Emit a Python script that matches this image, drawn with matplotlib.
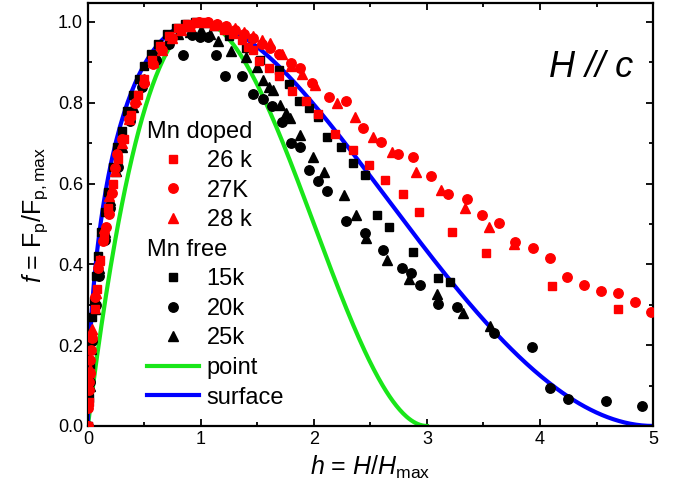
import numpy as np
import matplotlib
matplotlib.use('Agg')
import matplotlib.pyplot as plt
from matplotlib.text import Text

plt.rcParams['font.family'] = ['Liberation Sans', 'DejaVu Sans']
plt.rcParams['mathtext.fontset'] = 'custom'
plt.rcParams['mathtext.rm'] = 'Liberation Sans'
plt.rcParams['mathtext.it'] = 'Liberation Sans:italic'

# Mn free, 15k (black squares)
h_15k = [0, 0.01, 0.02, 0.03, 0.04, 0.05, 0.07, 0.09, 0.12, 0.15, 0.18, 0.22, 0.26, 0.30,
         0.35, 0.40, 0.45, 0.50, 0.56, 0.62, 0.70, 0.78, 0.86, 0.95, 1.04, 1.12, 1.25, 1.40,
         1.52, 1.69, 1.78, 1.87, 1.96, 2.04, 2.12, 2.24, 2.35, 2.45, 2.56, 2.66, 2.88, 3.10, 3.20]
f_15k = [0, 0.07, 0.15, 0.22, 0.27, 0.31, 0.37, 0.42, 0.48, 0.53, 0.58, 0.64, 0.69, 0.73,
         0.78, 0.82, 0.86, 0.89, 0.92, 0.945, 0.97, 0.985, 0.995, 1.0, 0.998, 0.99, 0.965, 0.935,
         0.905, 0.881, 0.847, 0.804, 0.787, 0.765, 0.715, 0.691, 0.651, 0.621, 0.522, 0.493, 0.431, 0.366, 0.356]

# Mn free, 20k (black circles)
h_20k = [0, 0.02, 0.04, 0.07, 0.10, 0.15, 0.20, 0.27, 0.37, 0.48, 0.60, 0.72, 0.84, 0.92,
         0.99, 1.06, 1.13, 1.21, 1.36, 1.46, 1.55, 1.63, 1.72, 1.80, 1.88, 1.96, 2.04, 2.12,
         2.28, 2.45, 2.61, 2.78, 2.86, 2.94, 3.10, 3.27, 3.59, 3.93, 4.09, 4.25, 4.58, 4.90]
f_20k = [0, 0.11, 0.21, 0.30, 0.37, 0.46, 0.54, 0.64, 0.755, 0.84, 0.905, 0.945, 0.918, 0.968,
         0.963, 0.963, 0.918, 0.866, 0.866, 0.822, 0.809, 0.792, 0.752, 0.700, 0.691, 0.634, 0.606, 0.582,
         0.507, 0.478, 0.436, 0.391, 0.379, 0.349, 0.302, 0.295, 0.230, 0.196, 0.094, 0.067, 0.062, 0.050]

# Mn free, 25k (black triangles)
h_25k = [0, 0.015, 0.03, 0.06, 0.10, 0.15, 0.20, 0.25, 0.30, 0.40, 0.50, 0.60, 0.70, 0.80,
         0.90, 1.00, 1.08, 1.15, 1.27, 1.40, 1.50, 1.55, 1.60, 1.64, 1.70, 1.75, 1.79, 1.88,
         1.99, 2.09, 2.27, 2.37, 2.46, 2.65, 2.84, 3.09, 3.32, 3.56]
f_25k = [0, 0.10, 0.19, 0.29, 0.39, 0.48, 0.56, 0.63, 0.69, 0.79, 0.86, 0.915, 0.95, 0.97,
         0.975, 0.98, 0.97, 0.953, 0.928, 0.913, 0.889, 0.856, 0.839, 0.832, 0.795, 0.775, 0.762, 0.720,
         0.666, 0.629, 0.572, 0.522, 0.465, 0.411, 0.364, 0.327, 0.280, 0.248]

# Mn doped, 26 k (red squares)
h_26k = [0, 0.01, 0.02, 0.04, 0.06, 0.08, 0.11, 0.14, 0.18, 0.22, 0.27, 0.32, 0.38, 0.44,
         0.50, 0.57, 0.64, 0.72, 0.80, 0.88, 0.96, 1.04, 1.12, 1.20, 1.28, 1.36, 1.42, 1.46,
         1.51, 1.60, 1.69, 1.81, 1.93, 2.04, 2.19, 2.35, 2.49, 2.63, 2.79, 2.93, 3.22, 3.52, 4.11, 4.69]
f_26k = [0, 0.06, 0.13, 0.22, 0.29, 0.34, 0.41, 0.47, 0.54, 0.60, 0.66, 0.71, 0.77, 0.82,
         0.86, 0.905, 0.94, 0.965, 0.985, 0.995, 1.0, 1.0, 0.99, 0.98, 0.97, 0.955, 0.938, 0.931,
         0.903, 0.886, 0.866, 0.829, 0.804, 0.772, 0.723, 0.683, 0.646, 0.609, 0.574, 0.530, 0.480, 0.428, 0.347, 0.290]

# Mn doped, 27K (red circles)
h_27k = [0, 0.005, 0.009, 0.009, 0.018, 0.018, 0.027, 0.035, 0.062, 0.088, 0.133, 0.159, 0.186,
         0.212, 0.239, 0.257, 0.30, 0.36, 0.42, 0.50, 0.58, 0.66, 0.74, 0.82, 0.90, 0.98, 1.06,
         1.14, 1.22, 1.30, 1.38, 1.46, 1.54, 1.61, 1.69, 1.80, 1.88, 1.98, 2.13, 2.28, 2.43, 2.59,
         2.74, 2.88, 3.04, 3.19, 3.35, 3.49, 3.64, 3.78, 3.94, 4.09, 4.24, 4.39, 4.54, 4.69, 4.84, 4.98]
f_27k = [0, 0.045, 0.089, 0.109, 0.131, 0.163, 0.188, 0.218, 0.319, 0.391, 0.458, 0.493, 0.525,
         0.577, 0.639, 0.673, 0.71, 0.76, 0.80, 0.85, 0.895, 0.93, 0.96, 0.98, 0.99, 1.0, 1.0,
         0.995, 0.99, 0.98, 0.97, 0.96, 0.945, 0.935, 0.921, 0.899, 0.886, 0.849, 0.814, 0.804, 0.738, 0.703,
         0.673, 0.666, 0.619, 0.574, 0.562, 0.522, 0.502, 0.455, 0.441, 0.416, 0.369, 0.349, 0.334, 0.329, 0.307, 0.282]

# Mn doped, 28 k (red triangles)
h_28k = [0, 0.02, 0.04, 0.07, 0.10, 0.14, 0.19, 0.24, 0.30, 0.36, 0.43, 0.50, 0.58, 0.66,
         0.74, 0.82, 0.90, 0.98, 1.06, 1.14, 1.22, 1.30, 1.38, 1.46, 1.54, 1.61, 1.72, 1.80,
         1.89, 2.01, 2.20, 2.36, 2.52, 2.69, 2.90, 3.12, 3.34, 3.55, 3.77]
f_28k = [0, 0.14, 0.24, 0.33, 0.41, 0.49, 0.57, 0.63, 0.70, 0.76, 0.81, 0.86, 0.90, 0.93,
         0.96, 0.98, 0.99, 1.0, 1.0, 0.995, 0.99, 0.985, 0.975, 0.965, 0.955, 0.948, 0.92, 0.89,
         0.871, 0.844, 0.80, 0.765, 0.715, 0.678, 0.629, 0.584, 0.540, 0.493, 0.450]

# Dew-Hughes model curves: f = A h^p (1 - h/h0)^q
point_par = (9 / 4, 1.0, 2, 3.0)
surface_par = (25 / 16, 0.5, 2, 5.0)


def dew_hughes(par):
    a, p, q, h0 = par
    h = np.linspace(0, h0, 300)
    return h, a * h ** p * (1 - h / h0) ** q


fig = plt.figure(figsize=(6.76, 4.93), dpi=100)
ax = fig.add_axes([0.130, 0.136, 0.836, 0.858])

hp, fp = dew_hughes(point_par)
hs, fs = dew_hughes(surface_par)
ln_point, = ax.plot(hp, fp, color='#19e619', lw=3, zorder=2)
ln_surf, = ax.plot(hs, fs, color='#0000ff', lw=3, zorder=2)

ms = 6.8
sq15, = ax.plot(h_15k, f_15k, 's', color='black', ms=ms - 0.6, zorder=3)
ci20, = ax.plot(h_20k, f_20k, 'o', color='black', ms=ms, zorder=3)
tr25, = ax.plot(h_25k, f_25k, '^', color='black', ms=ms + 0.5, zorder=3)
sq26, = ax.plot(h_26k, f_26k, 's', color='#ff0000', ms=ms - 0.6, zorder=4)
ci27, = ax.plot(h_27k, f_27k, 'o', color='#ff0000', ms=ms, zorder=4)
tr28, = ax.plot(h_28k, f_28k, '^', color='#ff0000', ms=ms + 0.5, zorder=4)


# group headers ("Mn doped", "Mn free") drawn in the handle column of the legend
class HeaderHandler:
    def legend_artist(self, legend, orig_handle, fontsize, handlebox):
        t = Text(0, 0, orig_handle.get_text(), fontsize=fontsize, va='baseline', ha='left')
        handlebox.add_artist(t)
        return t


hdr_doped = Text(text='Mn doped')
hdr_free = Text(text='Mn free')
handles = [hdr_doped, sq26, ci27, tr28, hdr_free, sq15, ci20, tr25, ln_point, ln_surf]
labels = ['', '26 k', '27K', '28 k', '', '15k', '20k', '25k', 'point', 'surface']
ax.legend(handles, labels, handler_map={Text: HeaderHandler()}, loc='upper left',
          bbox_to_anchor=(0.104, 0.722), frameon=False, fontsize=17, handlelength=2.2,
          handletextpad=0.34, labelspacing=0.32, borderpad=0, borderaxespad=0)

ax.text(0.965, 0.825, 'H // c', transform=ax.transAxes, ha='right', va='baseline',
        fontsize=26, style='italic')

ax.set_xlim(0, 5)
ax.set_ylim(0, 1.047)
ax.set_xticks(np.arange(0, 6, 1))
ax.set_xticks(np.arange(0, 5.01, 0.5), minor=True)
ax.set_yticks(np.arange(0, 1.01, 0.2))
ax.set_yticks(np.arange(0, 1.01, 0.1), minor=True)
ax.set_yticklabels(['0.0', '0.2', '0.4', '0.6', '0.8', '1.0'])
ax.tick_params(which='both', direction='in', top=True, right=True, width=1.3, labelsize=13)
ax.tick_params(which='major', length=5)
ax.tick_params(which='minor', length=3)
for sp in ax.spines.values():
    sp.set_linewidth(1.6)

ax.set_xlabel(r'$h$ = $H$/$H_\mathrm{max}$', fontsize=18, labelpad=4)
ax.set_ylabel(r'$f$ = F$_\mathrm{p}$/F$_\mathrm{p,max}$', fontsize=18, labelpad=6)

fig.savefig('out.png', dpi=100)
